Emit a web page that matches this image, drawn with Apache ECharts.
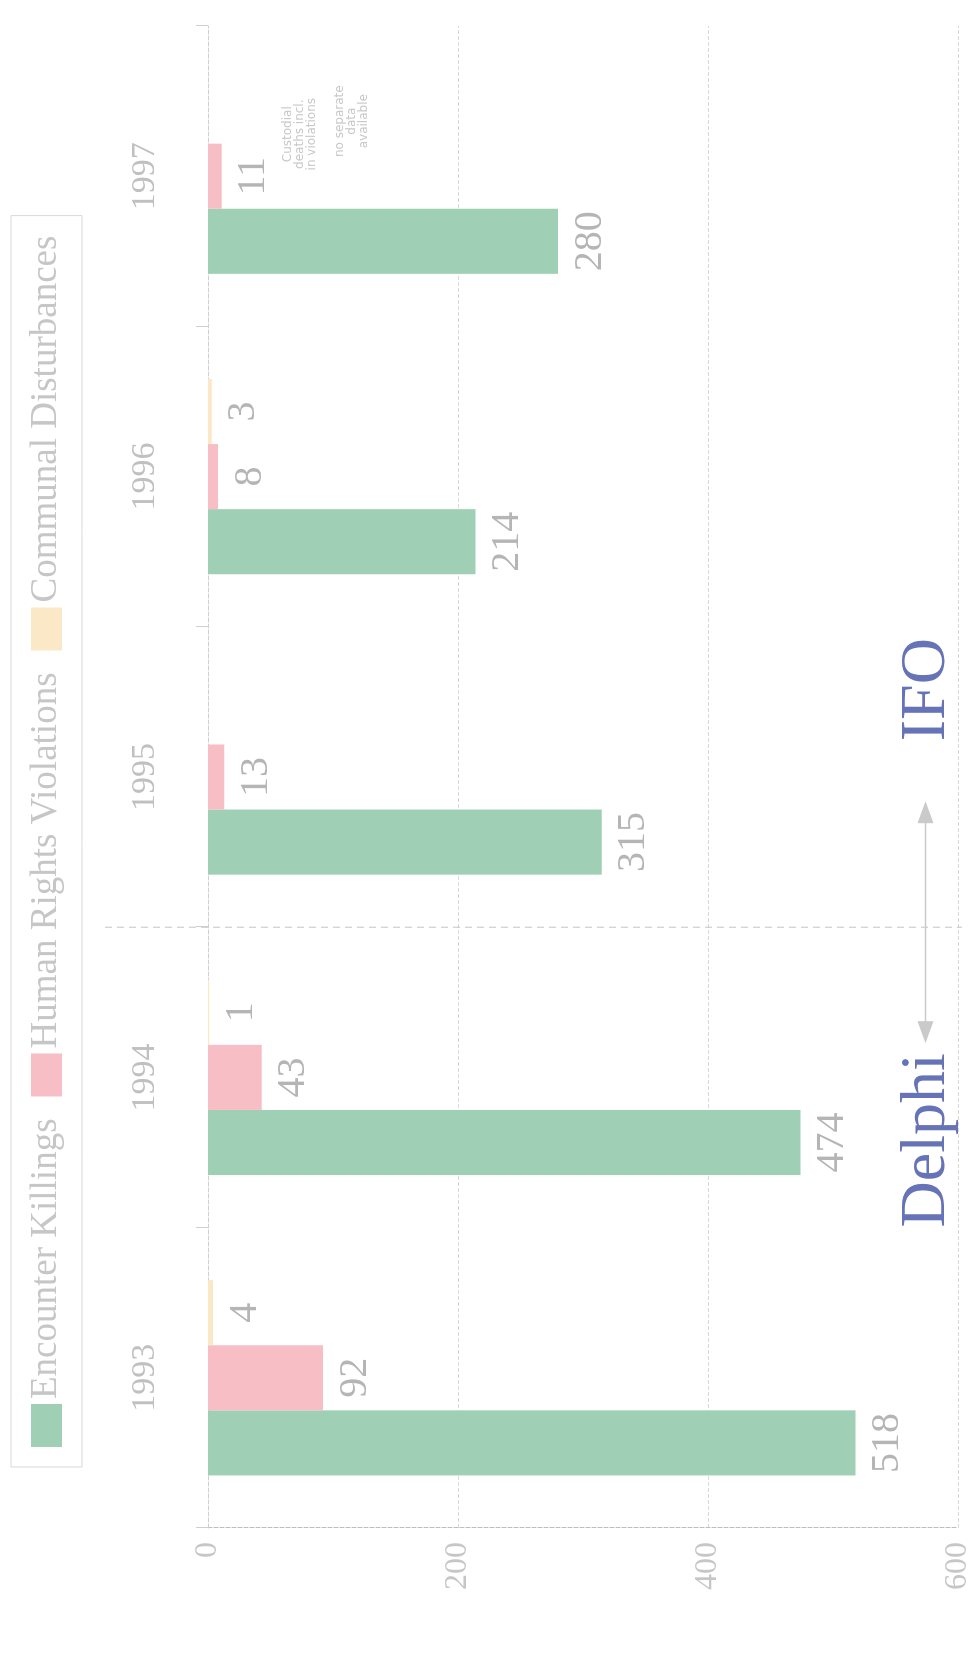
<!DOCTYPE html>
<html>
<head>
<meta charset="utf-8">
<script src="https://cdn.jsdelivr.net/npm/echarts@6/dist/echarts.min.js"></script>
<style>
  html, body { margin: 0; padding: 0; background: #ffffff; width: 976px; height: 1655px; overflow: hidden; }
  /* the chart is laid out landscape and turned a quarter counter-clockwise onto the page */
  #wrap { position: absolute; left: 0; top: 0; width: 1655px; height: 976px;
          transform-origin: 0 0; transform: translateY(1655px) rotate(-90deg); }
  #chart { width: 1655px; height: 976px; }
</style>
</head>
<body>
<div id="wrap"><div id="chart"></div></div>
<script>
// ---- data ----
const years = ['1993', '1994', '1995', '1996', '1997'];
const seriesNames = ['Encounter Killings', 'Human Rights Violations', 'Communal Disturbances'];
const encounterKillings = [518, 474, 315, 214, 280];
const rightsViolations = [92, 43, 13, 8, 11];
const communalDisturbances = [4, 1, null, 3, null];
const valueMin = 0;
const valueMax = 600;
const valueStep = 200;
const noteA = ['Custodial', 'deaths incl.', 'in violations'];
const noteB = ['no separate', 'data', 'available'];
const periodLeft = 'Delphi';
const periodRight = 'IFO';

// ---- styling ----
const SERIF = '"Liberation Serif", "DejaVu Serif", serif';
const colors = ['#9fcfb5', '#f7bfc5', '#fbe8c6'];
const labelGrey = '#b5b5b5';

const chart = echarts.init(document.getElementById('chart'), null, { renderer: 'canvas' });

function barSeries(name, values, color) {
  return {
    name: name,
    type: 'bar',
    data: values,
    barGap: '0%',
    barCategoryGap: '35%',
    itemStyle: { color: color },
    label: {
      show: true,
      position: 'bottom',
      distance: 12,
      fontFamily: SERIF,
      fontSize: 40,
      color: labelGrey
    }
  };
}

const option = {
  backgroundColor: '#ffffff',
  animation: false,
  color: colors,
  legend: {
    top: 11,
    left: 188,
    itemWidth: 43,
    itemHeight: 31,
    itemGap: 22,
    padding: [17, 20],
    icon: 'rect',
    borderColor: '#d8d8d8',
    borderWidth: 1,
    textStyle: { fontFamily: SERIF, fontSize: 37, color: '#c6c6c6' },
    data: seriesNames
  },
  grid: { left: 127, right: 26, top: 208, bottom: 18 },
  xAxis: {
    type: 'category',
    position: 'top',
    data: years,
    boundaryGap: true,
    axisLine: { show: true, lineStyle: { color: '#cfcfcf', type: 'dashed', width: 1 } },
    axisTick: { show: true, length: 12, lineStyle: { color: '#cfcfcf' } },
    axisLabel: { margin: 46, fontFamily: SERIF, fontSize: 34, color: '#c0c0c0' },
    splitLine: { show: false }
  },
  yAxis: {
    type: 'value',
    inverse: true,
    min: valueMin,
    max: valueMax,
    interval: valueStep,
    axisLine: { show: true, lineStyle: { color: '#bdbdbd', type: 'dashed', width: 1 } },
    axisTick: { show: false },
    axisLabel: { margin: 14, fontFamily: SERIF, fontSize: 32, color: '#c6c6c6' },
    splitLine: { show: true, lineStyle: { color: '#d9d9d9', type: 'dashed', width: 1 } }
  },
  series: [
    barSeries(seriesNames[0], encounterKillings, colors[0]),
    barSeries(seriesNames[1], rightsViolations, colors[1]),
    barSeries(seriesNames[2], communalDisturbances, colors[2])
  ]
};

chart.setOption(option);

// ---- annotations placed from the axes ----
const c94 = chart.convertToPixel({ xAxisIndex: 0 }, '1994');
const c95 = chart.convertToPixel({ xAxisIndex: 0 }, '1995');
const c97 = chart.convertToPixel({ xAxisIndex: 0 }, '1997');
const divX = (c94 + c95) / 2;
const zeroY = chart.convertToPixel({ yAxisIndex: 0 }, 0);
const arrowY = chart.convertToPixel({ yAxisIndex: 0 }, 574);
const arrowGrey = '#cacaca';
const blue = '#6673b6';

function noteText(lines, x, y) {
  return {
    type: 'text',
    x: x, y: y,
    style: {
      text: lines.join('\n'),
      fontFamily: 'DejaVu Sans, sans-serif',
      fontSize: 12,
      lineHeight: 12,
      fill: '#c8c8c8',
      align: 'center',
      verticalAlign: 'top'
    }
  };
}

chart.setOption({
  graphic: [
    { type: 'line', shape: { x1: divX, y1: 105, x2: divX, y2: 962 },
      style: { stroke: '#c4c4c4', lineWidth: 1, lineDash: [7, 5] } },
    { type: 'line', shape: { x1: divX - 112, y1: arrowY, x2: divX + 122, y2: arrowY },
      style: { stroke: arrowGrey, lineWidth: 1.5 } },
    { type: 'polygon', shape: { points: [[divX - 116, arrowY], [divX - 94, arrowY - 8], [divX - 94, arrowY + 8]] },
      style: { fill: arrowGrey } },
    { type: 'polygon', shape: { points: [[divX + 126, arrowY], [divX + 104, arrowY - 8], [divX + 104, arrowY + 8]] },
      style: { fill: arrowGrey } },
    { type: 'text', x: divX - 126, y: arrowY + 2,
      style: { text: periodLeft, fontFamily: SERIF, fontSize: 64, fill: blue, align: 'right', verticalAlign: 'middle' } },
    { type: 'text', x: divX + 186, y: arrowY + 2,
      style: { text: periodRight, fontFamily: SERIF, fontSize: 64, fill: blue, align: 'left', verticalAlign: 'middle' } },
    noteText(noteA, c97 + 42, zeroY + 74),
    noteText(noteB, c97 + 55, zeroY + 126)
  ]
});
</script>
</body>
</html>
